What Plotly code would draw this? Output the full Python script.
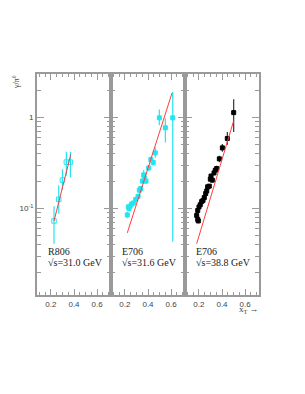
import plotly.graph_objects as go

# ---------------- data ----------------
# Panel 1: R806, sqrt(s)=31.0 GeV (open cyan squares)
r806_x = [0.227, 0.268, 0.300, 0.334, 0.369]
r806_y = [0.073, 0.126, 0.205, 0.323, 0.323]
r806_hi = [0.106, 0.180, 0.270, 0.420, 0.420]
r806_lo = [0.041, 0.088, 0.160, 0.230, 0.220]
r806_fit_x = [0.227, 0.372]
r806_fit_y = [0.073, 0.390]

# Panel 2: E706, sqrt(s)=31.6 GeV (filled cyan squares)
e706a_x = [0.221, 0.230, 0.236, 0.245, 0.259, 0.273, 0.294, 0.314, 0.325, 0.337,
           0.351, 0.363, 0.368, 0.383, 0.406, 0.425, 0.445, 0.463, 0.498, 0.550, 0.614]
e706a_y = [0.085, 0.104, 0.100, 0.106, 0.112, 0.115, 0.126, 0.136, 0.159, 0.166,
           0.200, 0.234, 0.217, 0.200, 0.279, 0.345, 0.320, 0.408, 0.990, 0.770, 0.990]
e706a_hi = [0.092, 0.110, 0.106, 0.112, 0.118, 0.121, 0.133, 0.143, 0.168, 0.176,
            0.212, 0.265, 0.230, 0.214, 0.300, 0.370, 0.345, 0.470, 1.220, 0.980, 1.900]
e706a_lo = [0.078, 0.098, 0.094, 0.100, 0.106, 0.109, 0.119, 0.129, 0.150, 0.156,
            0.188, 0.205, 0.204, 0.186, 0.258, 0.320, 0.295, 0.360, 0.820, 0.530, 0.043]
e706a_fit_x = [0.221, 0.608]
e706a_fit_y = [0.054, 1.860]

# Panel 3: E706, sqrt(s)=38.8 GeV (filled black squares)
e706b_x = [0.181, 0.190, 0.195, 0.190, 0.201, 0.212, 0.224, 0.236, 0.247, 0.259,
           0.268, 0.276, 0.290, 0.299, 0.305, 0.316, 0.331, 0.342, 0.354, 0.377,
           0.403, 0.446, 0.501]
e706b_y = [0.084, 0.076, 0.073, 0.095, 0.104, 0.110, 0.119, 0.123, 0.132, 0.146,
           0.156, 0.173, 0.176, 0.210, 0.227, 0.205, 0.246, 0.263, 0.275, 0.351,
           0.463, 0.588, 1.130]
e706b_hi = [0.088, 0.080, 0.077, 0.099, 0.108, 0.114, 0.124, 0.128, 0.138, 0.153,
            0.164, 0.182, 0.186, 0.222, 0.240, 0.218, 0.262, 0.280, 0.295, 0.380,
            0.510, 0.690, 1.580]
e706b_lo = [0.080, 0.072, 0.069, 0.091, 0.100, 0.106, 0.114, 0.118, 0.126, 0.139,
            0.148, 0.164, 0.166, 0.198, 0.214, 0.192, 0.230, 0.246, 0.255, 0.322,
            0.420, 0.500, 0.690]
e706b_fit_x = [0.181, 0.501]
e706b_fit_y = [0.041, 0.920]

panel_labels = [("R806", "√s=31.0 GeV"), ("E706", "√s=31.6 GeV"), ("E706", "√s=38.8 GeV")]
x_ticks = [0.2, 0.4, 0.6]
x_tick_text = ["0.2", "0.4", "0.6"]
y_ticks = [0.1, 1]
y_tick_text = ["10<sup>-1</sup>", "1"]
y_minor = [0.02, 0.03, 0.04, 0.05, 0.06, 0.07, 0.08, 0.09,
           0.2, 0.3, 0.4, 0.5, 0.6, 0.7, 0.8, 0.9, 2, 3]

# ---------------- figure ----------------
W, H = 305, 394
CYAN = "#20e6f2"
RED = "#ff3c3c"
FRAME = "#9a9a9a"

fig = go.Figure()

def add_panel(i, xs, ys, hi, lo, fx, fy, color, symbol, ecolor, msize):
    xa = "x" if i == 1 else f"x{i}"
    ya = "y" if i == 1 else f"y{i}"
    plus = [h - v for h, v in zip(hi, ys)]
    minus = [v - l for v, l in zip(ys, lo)]
    fig.add_trace(go.Scatter(
        x=xs, y=ys, mode="markers", xaxis=xa, yaxis=ya,
        marker=dict(symbol=symbol, size=msize, color=color,
                    line=dict(color=color, width=1)),
        error_y=dict(type="data", array=plus, arrayminus=minus,
                     color=ecolor, thickness=1.2, width=0),
        showlegend=False))
    fig.add_trace(go.Scatter(
        x=fx, y=fy, mode="lines", xaxis=xa, yaxis=ya,
        line=dict(color=RED, width=1), showlegend=False))

add_panel(1, r806_x, r806_y, r806_hi, r806_lo, r806_fit_x, r806_fit_y,
          CYAN, "square-open", CYAN, 4.5)
add_panel(2, e706a_x, e706a_y, e706a_hi, e706a_lo, e706a_fit_x, e706a_fit_y,
          CYAN, "square", CYAN, 4)
add_panel(3, e706b_x, e706b_y, e706b_hi, e706b_lo, e706b_fit_x, e706b_fit_y,
          "black", "square", "#333333", 4)

edges = [37, 111, 185, 259]
ytop, ybot = 74, 295
ydom = [1 - ybot / H, 1 - ytop / H]
tickfont = dict(family="Liberation Sans, Arial, sans-serif", size=8, color="#444444")

layout = dict(width=W, height=H, margin=dict(l=0, r=0, t=0, b=0),
              paper_bgcolor="white", plot_bgcolor="white")
for i in range(1, 4):
    xk = "xaxis" if i == 1 else f"xaxis{i}"
    yk = "yaxis" if i == 1 else f"yaxis{i}"
    ya = "y" if i == 1 else f"y{i}"
    xa = "x" if i == 1 else f"x{i}"
    layout[xk] = dict(
        domain=[edges[i - 1] / W, edges[i] / W], anchor=ya,
        range=[0.08, 0.72], showgrid=False, zeroline=False,
        showline=True, linecolor=FRAME, linewidth=2, mirror="ticks",
        ticks="inside", ticklen=6, tickcolor=FRAME, tickwidth=1,
        tickvals=x_ticks, ticktext=x_tick_text, tickfont=tickfont,
        minor=dict(dtick=0.05, tick0=0.0, ticks="inside", ticklen=3,
                   tickcolor=FRAME, showgrid=False))
    layout[yk] = dict(
        domain=ydom, anchor=xa, type="log", range=[-1.95, 0.477],
        showgrid=False, zeroline=False,
        showline=True, linecolor=FRAME, linewidth=2, mirror="ticks",
        ticks="inside", ticklen=7, tickcolor=FRAME, tickwidth=1,
        tickvals=y_ticks, ticktext=y_tick_text, tickfont=tickfont,
        showticklabels=(i == 1),
        minor=dict(tickmode="array", tickvals=y_minor, ticks="inside",
                   ticklen=4, tickcolor=FRAME, showgrid=False))
fig.update_layout(**layout)

serif = dict(family="Liberation Serif, Times New Roman, serif", size=10, color="#222222")
for i, (name, energy) in enumerate(panel_labels):
    x0 = edges[i] + 8.5
    fig.add_annotation(x=x0 / W, y=1 - 251 / H, xref="paper", yref="paper",
                       text=name, showarrow=False, xanchor="left", yanchor="middle",
                       font=serif)
    fig.add_annotation(x=x0 / W, y=1 - 262 / H, xref="paper", yref="paper",
                       text=energy, showarrow=False, xanchor="left", yanchor="middle",
                       font=serif)

fig.add_annotation(x=16 / W, y=1 - 82 / H, xref="paper", yref="paper",
                   text="γ/π<sup>0</sup>", showarrow=False, textangle=-90,
                   xanchor="center", yanchor="middle",
                   font=dict(family="Liberation Serif, serif", size=8, color="#444444"))
fig.add_annotation(x=249 / W, y=1 - 309 / H, xref="paper", yref="paper",
                   text="x<sub>T</sub>&nbsp;→", showarrow=False,
                   xanchor="center", yanchor="middle",
                   font=dict(family="Liberation Serif, serif", size=9, color="#444444"))

fig.write_html("out.html", config={"displayModeBar": False},
               post_script="document.body.style.margin='0';document.body.style.padding='0';")
